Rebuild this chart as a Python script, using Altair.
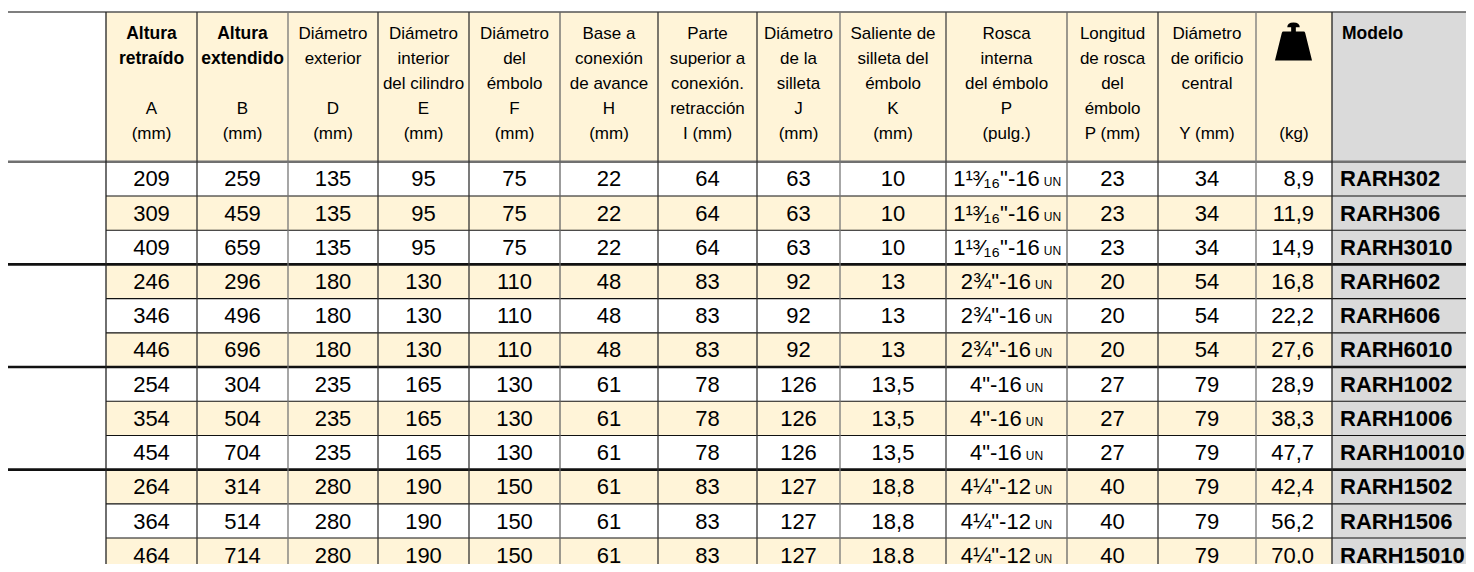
import altair as alt
import pandas as pd

# ---------------- data ----------------
col_A = [209, 309, 409, 246, 346, 446, 254, 354, 454, 264, 364, 464]
col_B = [259, 459, 659, 296, 496, 696, 304, 504, 704, 314, 514, 714]
col_D = [135, 135, 135, 180, 180, 180, 235, 235, 235, 280, 280, 280]
col_E = [95, 95, 95, 130, 130, 130, 165, 165, 165, 190, 190, 190]
col_F = [75, 75, 75, 110, 110, 110, 130, 130, 130, 150, 150, 150]
col_H = [22, 22, 22, 48, 48, 48, 61, 61, 61, 61, 61, 61]
col_I = [64, 64, 64, 83, 83, 83, 78, 78, 78, 83, 83, 83]
col_J = [63, 63, 63, 92, 92, 92, 126, 126, 126, 127, 127, 127]
col_K = ["10", "10", "10", "13", "13", "13", "13,5", "13,5", "13,5", "18,8", "18,8", "18,8"]
thread_main = ['1¹³⁄₁₆"-16'] * 3 + ['2¾"-16'] * 3 + ['4"-16'] * 3 + ['4¼"-12'] * 3
thread_unit = ["UN"] * 12
col_Pmm = [23, 23, 23, 20, 20, 20, 27, 27, 27, 40, 40, 40]
col_Y = [34, 34, 34, 54, 54, 54, 79, 79, 79, 79, 79, 79]
col_kg = ["8,9", "11,9", "14,9", "16,8", "22,2", "27,6", "28,9", "38,3", "47,7",
          "42,4", "56,2", "70,0"]
models = ["RARH302", "RARH306", "RARH3010", "RARH602", "RARH606", "RARH6010",
          "RARH1002", "RARH1006", "RARH10010", "RARH1502", "RARH1506", "RARH15010"]

header_lines = [
    ["Altura", "retraído", "", "A", "(mm)"],
    ["Altura", "extendido", "", "B", "(mm)"],
    ["Diámetro", "exterior", "", "D", "(mm)"],
    ["Diámetro", "interior", "del cilindro", "E", "(mm)"],
    ["Diámetro", "del", "émbolo", "F", "(mm)"],
    ["Base a", "conexión", "de avance", "H", "(mm)"],
    ["Parte", "superior a", "conexión.", "retracción", "I (mm)"],
    ["Diámetro", "de la", "silleta", "J", "(mm)"],
    ["Saliente de", "silleta del", "émbolo", "K", "(mm)"],
    ["Rosca", "interna", "del émbolo", "P", "(pulg.)"],
    ["Longitud", "de rosca", "del", "émbolo", "P (mm)"],
    ["Diámetro", "de orificio", "central", "", "Y (mm)"],
    ["", "", "", "", "(kg)"],
]
header_bold = [[0, 1], [0, 1]] + [[] for _ in range(11)]
model_header = "Modelo"

# ---------------- layout ----------------
# chart occupies page pixels 8..1466 x 8..564 (page has an 8px margin);
# the vertical layout is read in reference pixels 8..572 and fitted to the view
LEFT, RIGHT = 8, 1466
VIEW_TOP, VIEW_BOTTOM = 8, 564
REF_TOP, REF_BOTTOM = 8, 572
TOP, HEAD_BOTTOM = 12, 164
ROW_H = 34.7
BOTTOM = 600
edges = [106, 197, 288, 378, 469, 560, 658, 757, 840, 946, 1067, 1158, 1256, 1332, 1474]
edge_colors = ["#222", "#333", "#777", "#333", "#333", "#666", "#333", "#333",
               "#777", "#444", "#666", "#333", "#777", "#222"]
head_baselines = [39, 64.5, 90, 115.5, 141]
CREAM, GREY = "#FFF4D8", "#DADADA"
FONT = "Liberation Sans, Arial, DejaVu Sans"
n_rows = len(col_A)
row_top = [HEAD_BOTTOM + i * ROW_H for i in range(n_rows)]
centers = [(edges[i] + edges[i + 1]) / 2 for i in range(len(edges) - 1)]

# background rectangles
rects = [dict(x=edges[0], x2=edges[13], y=TOP, y2=HEAD_BOTTOM, c=CREAM),
         dict(x=edges[13], x2=edges[14], y=TOP, y2=HEAD_BOTTOM, c=GREY)]
for i in range(n_rows):
    if i % 2 == 1:
        rects.append(dict(x=edges[0], x2=edges[13], y=row_top[i], y2=row_top[i] + ROW_H, c=CREAM))
    rects.append(dict(x=edges[13], x2=edges[14], y=row_top[i], y2=row_top[i] + ROW_H, c=GREY))
rect_df = pd.DataFrame(rects)

# rules
rules = [dict(x=LEFT, x2=edges[14], y=TOP, y2=TOP, c="#555", w=1.5),
         dict(x=LEFT, x2=edges[14], y=HEAD_BOTTOM, y2=HEAD_BOTTOM, c="#707070", w=2.5)]
for k in range(1, n_rows + 1):
    yy = HEAD_BOTTOM + k * ROW_H
    if k % 3 == 0:
        rules.append(dict(x=LEFT, x2=edges[14], y=yy, y2=yy, c="#111", w=2.6))
    else:
        rules.append(dict(x=edges[0], x2=edges[14], y=yy, y2=yy, c="#111", w=1.1))
for e, col in zip(edges[:-1], edge_colors):
    rules.append(dict(x=e, x2=e, y=TOP, y2=BOTTOM, c=col, w=1.3))
rule_df = pd.DataFrame(rules)

# header text
hdr = []
for ci, lines in enumerate(header_lines):
    for li, t in enumerate(lines):
        if t:
            hdr.append(dict(x=centers[ci], y=head_baselines[li], t=t,
                            b=li in header_bold[ci]))
hdr_df = pd.DataFrame(hdr)
hdr_reg = hdr_df[~hdr_df.b]
hdr_bold = hdr_df[hdr_df.b]
model_hdr_df = pd.DataFrame([dict(x=edges[13] + 10, y=head_baselines[0], t=model_header)])

# data text (centered columns)
centered_cols = [(0, col_A), (1, col_B), (2, col_D), (3, col_E), (4, col_F), (5, col_H),
                 (6, col_I), (7, col_J), (8, col_K), (10, col_Pmm), (11, col_Y)]
BASE_OFF = 25.0
cells = []
for ci, vals in centered_cols:
    for i, v in enumerate(vals):
        cells.append(dict(x=centers[ci], y=row_top[i] + BASE_OFF, t=str(v)))
cell_df = pd.DataFrame(cells)

kg_df = pd.DataFrame([dict(x=edges[13] - 18, y=row_top[i] + BASE_OFF, t=v)
                      for i, v in enumerate(col_kg)])
model_df = pd.DataFrame([dict(x=edges[13] + 8, y=row_top[i] + BASE_OFF, t=v)
                         for i, v in enumerate(models)])

# thread column: main text + small "UN", centred together
MAIN_FS, UN_FS, GAP = 22, 12, 4
em = {"0": .556, "1": .556, "2": .556, "4": .556, "6": .556, '"': .355, "-": .333,
      "¾": .834, "¼": .834, "¹": .333, "³": .333, "⁄": .167, "₁": .40, "₆": .40}
def width(s, fs):
    return sum(em.get(ch, .6) for ch in s) * fs
thr_main, thr_un = [], []
for i in range(n_rows):
    wm = width(thread_main[i], MAIN_FS)
    wu = (0.722 * 2) * UN_FS
    start = centers[9] - (wm + GAP + wu) / 2
    thr_main.append(dict(x=start + wm, y=row_top[i] + BASE_OFF, t=thread_main[i]))
    thr_un.append(dict(x=start + wm + GAP, y=row_top[i] + BASE_OFF, t=thread_unit[i]))
thr_main_df = pd.DataFrame(thr_main)
thr_un_df = pd.DataFrame(thr_un)

# weight icon
icon_df = pd.DataFrame([dict(x=1293.5, y=42)])
icon_path = ("M-0.52,-0.51 L0.52,-0.51 Q0.58,-0.51 0.6,-0.44 L0.95,0.97 L-0.95,0.97 "
             "L-0.6,-0.44 Q-0.58,-0.51 -0.52,-0.51 Z "
             "M-0.12,-0.75 L0.12,-0.75 L0.12,-0.5 L-0.12,-0.5 Z "
             "M-0.32,-0.73 Q-0.32,-0.97 0,-0.97 Q0.32,-0.97 0.32,-0.73 Z")

# ---------------- chart ----------------
xs = alt.Scale(domain=[LEFT, RIGHT], nice=False, zero=False)
ys = alt.Scale(domain=[REF_TOP, REF_BOTTOM], nice=False, zero=False, reverse=True)
X = alt.X("x:Q", scale=xs, axis=None)
Y = alt.Y("y:Q", scale=ys, axis=None)

bg = alt.Chart(rect_df).mark_rect(clip=True).encode(
    x=X, x2="x2:Q", y=Y, y2="y2:Q", color=alt.Color("c:N", scale=None))
lines = alt.Chart(rule_df).mark_rule(clip=True).encode(
    x=X, x2="x2:Q", y=Y, y2="y2:Q",
    color=alt.Color("c:N", scale=None),
    strokeWidth=alt.StrokeWidth("w:Q", scale=None))

def txt(df, size, align, weight="normal"):
    return alt.Chart(df).mark_text(font=FONT, fontSize=size, align=align,
                                   baseline="alphabetic", fontWeight=weight,
                                   color="black", clip=True).encode(x=X, y=Y, text="t:N")

layers = [
    bg, lines,
    txt(hdr_reg, 17, "center"),
    txt(hdr_bold, 17.5, "center", "bold"),
    txt(model_hdr_df, 17.5, "left", "bold"),
    txt(cell_df, 22, "center"),
    txt(kg_df, 22, "right"),
    txt(model_df, 22, "left", "bold"),
    txt(thr_main_df, MAIN_FS, "right"),
    txt(thr_un_df, UN_FS, "left"),
    alt.Chart(icon_df).mark_point(shape=icon_path, filled=True, size=1521,
                                  color="black", opacity=1, strokeWidth=0).encode(x=X, y=Y),
]

chart = alt.layer(*layers).properties(
    width=RIGHT - LEFT, height=VIEW_BOTTOM - VIEW_TOP,
    autosize=alt.AutoSizeParams(type="none"), padding=0,
).configure_view(stroke=None)

chart.save("out.html", embed_options={"renderer": "svg", "actions": False})
